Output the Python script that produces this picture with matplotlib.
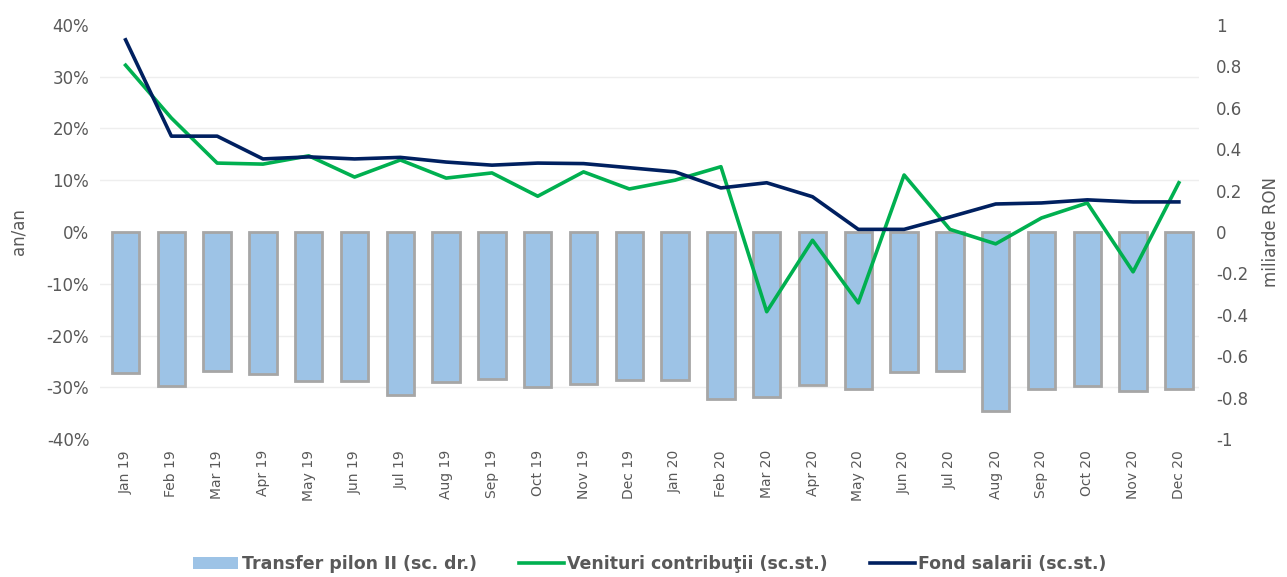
import matplotlib.pyplot as plt
import numpy as np
from matplotlib.ticker import FuncFormatter
from matplotlib.patches import Patch

# months on the x axis
months = ['Jan 19', 'Feb 19', 'Mar 19', 'Apr 19', 'May 19', 'Jun 19', 'Jul 19', 'Aug 19',
          'Sep 19', 'Oct 19', 'Nov 19', 'Dec 19', 'Jan 20', 'Feb 20', 'Mar 20', 'Apr 20',
          'May 20', 'Jun 20', 'Jul 20', 'Aug 20', 'Sep 20', 'Oct 20', 'Nov 20', 'Dec 20']

# bars, right axis (miliarde RON)
transfer_pilon = [-0.68, -0.745, -0.67, -0.686, -0.72, -0.72, -0.785, -0.725,
                  -0.71, -0.75, -0.735, -0.715, -0.715, -0.805, -0.795, -0.74,
                  -0.76, -0.675, -0.67, -0.865, -0.76, -0.745, -0.77, -0.76]

# lines, left axis (% an/an)
venituri = [32.2, 22.0, 13.3, 13.1, 14.7, 10.6, 13.9, 10.4,
            11.4, 6.9, 11.6, 8.3, 10.0, 12.6, -15.4, -1.6,
            -13.7, 11.0, 0.5, -2.3, 2.7, 5.6, -7.7, 9.5]
fond_salarii = [37.1, 18.5, 18.5, 14.1, 14.5, 14.1, 14.4, 13.5,
                12.9, 13.3, 13.2, 12.4, 11.6, 8.5, 9.5, 6.8,
                0.5, 0.5, 2.9, 5.4, 5.6, 6.2, 5.8, 5.8]

tick_col = '#595959'
bar_col = '#9dc3e6'
x = np.arange(len(months))

fig = plt.figure(figsize=(12.87, 5.77), dpi=100)
ax = fig.add_axes([0.078, 0.239, 0.854, 0.718])
ax2 = ax.twinx()

# bars go on the right axis but should sit behind the lines
ax2.set_zorder(1)
ax.set_zorder(2)
ax.patch.set_visible(False)

ax2.bar(x, transfer_pilon, width=0.6, color=bar_col, edgecolor='#a6a6a6', linewidth=2)
l1, = ax.plot(x, venituri, color='#00b050', linewidth=2.6, label='Venituri contribuţii (sc.st.)')
l2, = ax.plot(x, fond_salarii, color='#002060', linewidth=2.6, label='Fond salarii (sc.st.)')

ax.set_ylim(-40, 40)
ax.set_yticks(np.arange(-40, 41, 10))
ax.yaxis.set_major_formatter(FuncFormatter(lambda v, p: f'{v:.0f}%'))
ax2.set_ylim(-1, 1)
ax2.set_yticks(np.arange(-1, 1.01, 0.2))
ax2.yaxis.set_major_formatter(FuncFormatter(lambda v, p: f'{v:.1f}'.rstrip('0').rstrip('.') if abs(v) > 1e-9 else '0'))
ax.set_xlim(-0.55, 23.45)

# gridlines follow the left axis (every 10% = 0.25 on the right scale), drawn behind bars
ax2.set_yticks(np.arange(-1, 1.01, 0.25), minor=True)
ax2.tick_params(axis='y', which='minor', length=0)
ax2.grid(axis='y', which='minor', color='#eeeeee', linewidth=1)
ax2.set_axisbelow(True)

ax.set_xticks(x)
ax.set_xticklabels(months, rotation=90, fontsize=10, color=tick_col)
ax.tick_params(axis='y', labelsize=12, colors=tick_col, length=0, pad=8)
ax2.tick_params(axis='y', which='major', labelsize=12, colors=tick_col, length=0, pad=12)
ax.tick_params(axis='x', length=0, pad=8)

for a in (ax, ax2):
    for s in a.spines.values():
        s.set_visible(False)

ax.set_ylabel('an/an', fontsize=12, color=tick_col, labelpad=14)
ax2.set_ylabel('miliarde RON', fontsize=12, color=tick_col, labelpad=10)

bar_handle = Patch(facecolor=bar_col, edgecolor='none', label='Transfer pilon II (sc. dr.)')
fig.legend(handles=[bar_handle, l1, l2], loc='center', bbox_to_anchor=(0.505, 0.022), ncol=3,
           frameon=False, handlelength=2.6, columnspacing=2.4, handletextpad=0.2,
           prop={'weight': 'bold', 'size': 12.5}, labelcolor=tick_col)

fig.savefig('out.png', dpi=100)
